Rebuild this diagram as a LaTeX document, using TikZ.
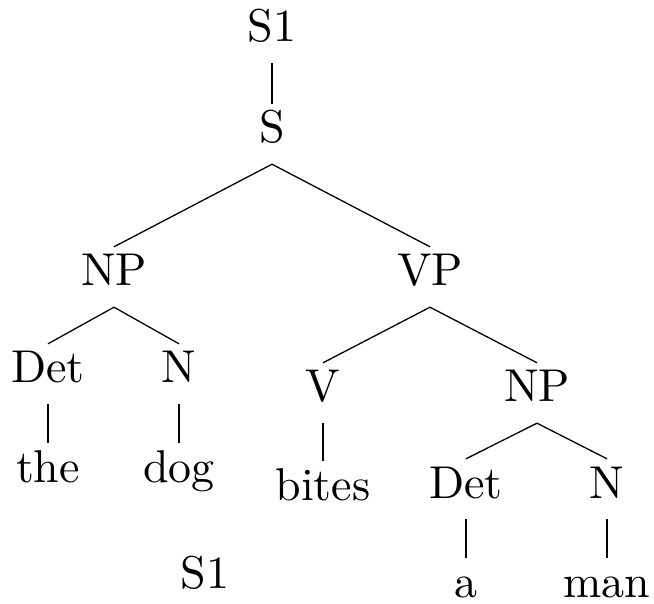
\documentclass[tikz,border=0pt]{standalone}
\usepackage{fontspec}
\newfontfamily\treefont{lmroman10-regular.otf}
\begin{document}
\begin{tikzpicture}[x=1pt,y=-1pt,
  cat/.style={anchor=base,inner xsep=4pt,inner ysep=8pt,text height=31pt,text depth=13pt,font=\treefont\fontsize{46}{54}\selectfont},
  leaf/.style={cat,inner ysep=0pt,text height=39pt,text depth=0pt},
  edge/.style={line width=1.3pt}]
\useasboundingbox (0,0) rectangle (654,604);
% inner nodes, placed by baseline
\node[cat] (s1)   at (272,42)  {S1};
\node[cat] (s)    at (272,143) {S};
\node[cat] (np1)  at (114,286) {NP};
\node[cat] (vp)   at (430,286) {VP};
\node[cat] (det1) at (48,383)  {Det};
\node[cat] (n1)   at (179,383) {N};
\node[cat] (v)    at (323,402) {V};
\node[cat] (np2)  at (537,402) {NP};
\node[cat] (det2) at (466,498) {Det};
\node[cat] (n2)   at (607,498) {N};
% words
\node[leaf] (the)   at (48,482)  {the};
\node[leaf] (dog)   at (179,482) {dog};
\node[leaf] (bites) at (323,500) {bites};
\node[leaf] (a)     at (466,597) {a};
\node[leaf] (man)   at (607,597) {man};
\node[leaf] (s1b)   at (205,588) {S1};
% branches
\draw[edge] (s1.south) -- (s.north);
\draw[edge] (s.south) -- (np1.north);
\draw[edge] (s.south) -- (vp.north);
\draw[edge] (np1.south) -- (det1.north);
\draw[edge] (np1.south) -- (n1.north);
\draw[edge] (det1.south) -- (the.north);
\draw[edge] (n1.south) -- (dog.north);
\draw[edge] (vp.south) -- (v.north);
\draw[edge] (vp.south) -- (np2.north);
\draw[edge] (v.south) -- (bites.north);
\draw[edge] (np2.south) -- (det2.north);
\draw[edge] (np2.south) -- (n2.north);
\draw[edge] (det2.south) -- (a.north);
\draw[edge] (n2.south) -- (man.north);
\end{tikzpicture}
\end{document}
